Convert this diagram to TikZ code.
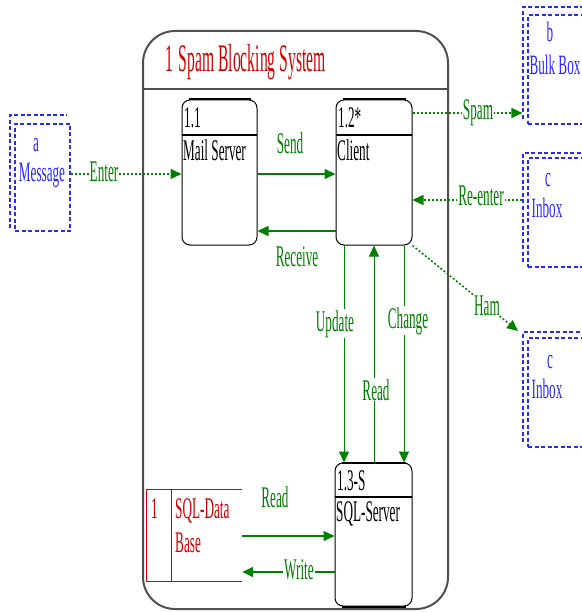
\documentclass[tikz,border=0pt]{standalone}
\usepackage{fontspec}
\newfontfamily\cf[FakeStretch=0.44]{Liberation Serif}
\newfontfamily\bluef[FakeStretch=0.47]{Liberation Serif}
\newfontfamily\titlef[FakeStretch=0.40]{Liberation Serif}
\usetikzlibrary{arrows.meta}
\definecolor{dgreen}{RGB}{0,128,0}
\definecolor{dred}{RGB}{210,0,0}
\definecolor{dblue}{RGB}{40,40,255}
\definecolor{sysgray}{RGB}{80,80,80}
\begin{document}
\begin{tikzpicture}[x=1pt,y=-1pt,
  lbl/.style={font=\cf\fontsize{30}{30}\selectfont, text=dgreen, fill=white, inner sep=1pt, anchor=base},
  bt/.style={font=\cf\fontsize{30}{30}\selectfont, text=black, inner sep=0pt, anchor=base west},
  rt/.style={font=\cf\fontsize{30}{30}\selectfont, text=dred, inner sep=0pt, anchor=base west},
  proc/.style={draw=black, line width=1pt, rounded corners=8pt, inner sep=0pt},
  sflow/.style={draw=dgreen, line width=1.5pt, -{Triangle[length=11pt,width=10pt]}},
  dflow/.style={draw=dgreen, line width=1.5pt, dash pattern=on 2pt off 2pt, -{Triangle[length=11pt,width=10pt]}},
  ent/.style={draw=dblue, line width=1.2pt, dash pattern=on 4pt off 2.5pt, inner sep=0pt},
  entl/.style={draw=dblue, line width=1.2pt, dash pattern=on 4pt off 2.5pt},
  et/.style={font=\bluef\fontsize{28}{28}\selectfont, text=dblue, inner sep=0pt, anchor=base},
]
\useasboundingbox (0,0) rectangle (581,612);

% system boundary
\node[draw=sysgray, line width=2pt, rounded corners=32pt, minimum width=305pt, minimum height=578pt, inner sep=0pt] (sys) at (295.5,320) {};
\coordinate (ytitle) at (0,89);
\draw[sysgray, line width=2pt] (sys.west |- ytitle) -- (sys.east |- ytitle);
\node[font=\titlef\fontsize{39}{39}\selectfont, text=dred, anchor=base west, inner sep=0pt] (title) at (165,72) {1\hspace{6pt}Spam Blocking System};

% processes
\node[proc, minimum width=75pt, minimum height=145pt] (ms) at (219.5,172.5) {};
\node[proc, minimum width=76pt, minimum height=145pt] (cl) at (374,172.5) {};
\node[proc, minimum width=77pt, minimum height=143pt] (sq) at (373.5,534.5) {};
\draw[line width=2pt] (ms.north west) ++(0,36) -- ++(75,0);
\draw[line width=2pt] (cl.north west) ++(0,36) -- ++(76,0);
\draw[line width=2pt] (sq.north west) ++(0,34) -- ++(77,0);
\draw[line width=2pt] ([xshift=7pt]ms.north west) -- ([xshift=-7pt]ms.north east);
\draw[line width=2pt] ([xshift=7pt]cl.north west) -- ([xshift=-7pt]cl.north east);
\draw[line width=2pt] ([xshift=7pt]sq.north west) -- ([xshift=-7pt]sq.north east);
\draw[line width=2pt] ([xshift=7pt]sq.south west) -- ([xshift=-7pt]sq.south east);
\node[bt] (msid) at (184,128) {1.1};
\node[bt] (msname) at (183,161) {Mail Server};
\node[bt] (clid) at (338,128) {1.2*};
\node[bt] (clname) at (337,161) {Client};
\node[bt] (sqid) at (337,490) {1.3-S};
\node[bt] (sqname) at (336,521) {SQL-Server};

% data store
\node[minimum width=95pt, minimum height=91pt, inner sep=0pt] (ds) at (194.5,535.5) {};
\draw[dred, line width=1.3pt] (ds.north east) -- (ds.north west) -- (ds.south west) -- (ds.south east);
\draw[dred, line width=1pt] (ds.north west) ++(25,0) -- ++(0,91);
\node[rt] (dsid) at (151,518) {1};
\node[rt] (dsn1) at (175,518) {SQL-Data};
\node[rt] (dsn2) at (175,552) {Base};

% external entities
\node[ent, minimum width=55pt, minimum height=107pt] (msg) at (42.5,177.5) {};
\draw[entl] (10,228) -- (10,115) -- (67,115);
\node[et] (msga) at (36,152) {a};
\node[et] (msgn) at (42,182) {Message};

\node[ent, minimum width=55pt, minimum height=109pt] (bb) at (555.5,69.5) {};
\draw[entl] (523,119) -- (523,7) -- (583,7);
\node[et] (bba) at (550,42) {b};
\node[et] (bbn) at (555,75) {Bulk Box};

\node[ent, minimum width=55pt, minimum height=109pt] (ib1) at (555.5,212.5) {};
\draw[entl] (523,262) -- (523,153) -- (583,153);
\node[et] (ib1a) at (548,187) {c};
\node[et] (ib1n) at (547,218) {Inbox};

\node[ent, minimum width=55pt, minimum height=109pt] (ib2) at (555.5,392.5) {};
\draw[entl] (523,442) -- (523,332) -- (583,332);
\node[et] (ib2a) at (550,368) {c};
\node[et] (ib2n) at (547,398) {Inbox};

% flows
\coordinate (yE) at (0,174);
\coordinate (yR) at (0,231);
\coordinate (yS) at (0,113);
\coordinate (yRe) at (0,200);
\coordinate (yDR) at (0,536);
\coordinate (yW) at (0,572);
\coordinate (xU) at (344,0);
\coordinate (xRd) at (374,0);
\coordinate (xC) at (404,0);
\coordinate (hamend) at (518,331);

\draw[dflow] (msg.east |- yE) -- (ms.west |- yE);
\node[lbl] at (104,182) {Enter};
\draw[sflow] (ms.east |- yE) -- (cl.west |- yE);
\node[lbl] at (290,154) {Send};
\draw[sflow] (cl.west |- yR) -- (ms.east |- yR);
\node[lbl] at (297,266) {Receive};
\draw[dflow, shorten >=5pt] (cl.east |- yS) -- (bb.west |- yS);
\node[lbl] at (478,120) {Spam};
\draw[dflow, shorten <=5pt] (ib1.west |- yRe) -- (cl.east |- yRe);
\node[lbl] at (481,206) {Re-enter};
\draw[dflow] (cl.south east) -- (hamend);
\node[lbl] at (487,315) {Ham};
\draw[sflow, line width=1pt] (cl.south -| xU) -- (sq.north -| xU);
\node[lbl] at (335,331) {Update};
\draw[sflow, line width=1pt] (sq.north -| xRd) -- (cl.south -| xRd);
\node[lbl] at (376,400) {Read};
\draw[sflow, line width=1pt] (cl.south -| xC) -- (sq.north -| xC);
\node[lbl] at (408,328) {Change};
\draw[sflow] (ds.east |- yDR) -- (sq.west |- yDR);
\node[lbl] at (275,507) {Read};
\draw[sflow] (sq.west |- yW) -- (ds.east |- yW);
\node[lbl] at (299,579) {Write};
\end{tikzpicture}
\end{document}
